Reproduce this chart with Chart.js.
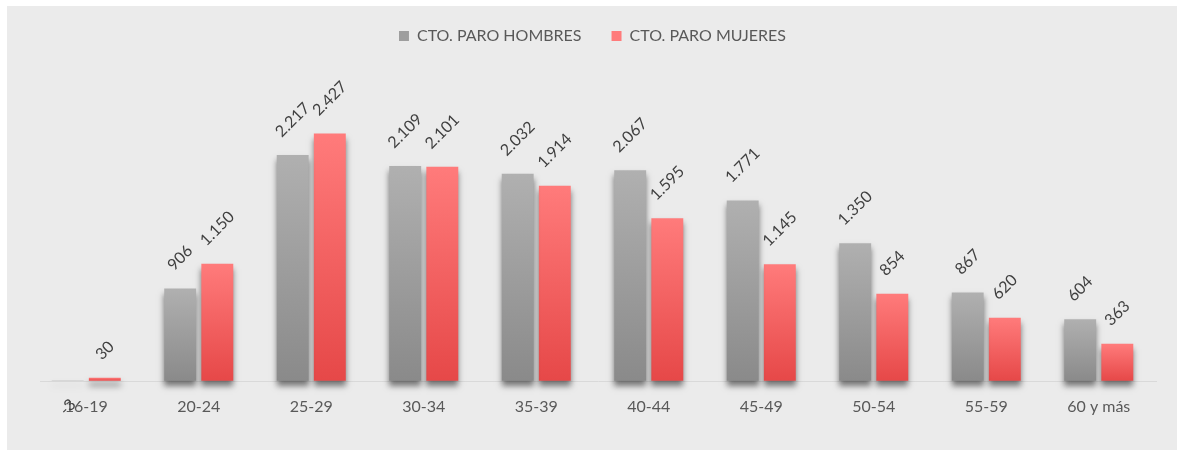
<!DOCTYPE html>
<html><head><meta charset="utf-8">
<script src="https://cdn.jsdelivr.net/npm/chart.js@4.4.1/dist/chart.umd.min.js"></script>
<style>
html,body{margin:0;padding:0;background:#fff;}
#wrap{position:absolute;left:7px;top:6px;width:1170px;height:444px;background:#ebebeb;}
canvas{display:block;}
</style></head><body>
<div id="wrap"><canvas id="c" width="1170" height="444"></canvas></div>
<script>
const categories = ['16-19','20-24','25-29','30-34','35-39','40-44','45-49','50-54','55-59','60 y más'];
const hombres = [-3, 906, 2217, 2109, 2032, 2067, 1771, 1350, 867, 604];
const mujeres = [30, 1150, 2427, 2101, 1914, 1595, 1145, 854, 620, 363];
const seriesNames = ['CTO. PARO HOMBRES', 'CTO. PARO MUJERES'];

function fmt(v){
  const s = String(Math.abs(v)).replace(/\B(?=(\d{3})+(?!\d))/g, '.');
  return (v < 0 ? '-' : '') + s;
}
function grad(top, bottom, solid){
  return (c) => {
    const ch = c.chart;
    if (c.type !== 'data' || !ch.chartArea || !ch.scales.y) return solid;
    const ys = ch.scales.y;
    const v = c.raw;
    const y0 = ys.getPixelForValue(Math.max(v, 0));
    const y1 = ys.getPixelForValue(Math.min(v, 0));
    if (!isFinite(y0) || !isFinite(y1) || y1 - y0 < 1) return solid;
    const g = ch.ctx.createLinearGradient(0, y0, 0, y1);
    g.addColorStop(0, top);
    g.addColorStop(1, bottom);
    return g;
  };
}

const legendSpacer = {
  id: 'legendSpacer',
  beforeInit(chart){
    const orig = chart.legend.fit;
    chart.legend.fit = function(){ orig.call(this); this.height = 62; };
  }
};
const zeroLine = {
  id: 'zeroLine',
  beforeDatasetsDraw(chart){
    const {ctx, chartArea, scales} = chart;
    const y = Math.round(scales.y.getPixelForValue(0)) + 0.5;
    ctx.save();
    ctx.strokeStyle = '#d9d9d9';
    ctx.lineWidth = 1;
    ctx.beginPath();
    ctx.moveTo(chartArea.left + 10, y);
    ctx.lineTo(chartArea.right + 2, y);
    ctx.stroke();
    ctx.restore();
  }
};
const barShadow = {
  id: 'barShadow',
  beforeDatasetDraw(chart){
    const ctx = chart.ctx;
    ctx.save();
    ctx.shadowColor = 'rgba(0,0,0,0.5)';
    ctx.shadowBlur = 6;
    ctx.shadowOffsetX = 0;
    ctx.shadowOffsetY = 5;
  },
  afterDatasetDraw(chart){ chart.ctx.restore(); }
};
const valueLabels = {
  id: 'valueLabels',
  afterDatasetsDraw(chart){
    const ctx = chart.ctx;
    ctx.save();
    ctx.font = '16px Lato';
    ctx.fillStyle = '#404040';
    ctx.textAlign = 'center';
    ctx.textBaseline = 'middle';
    chart.data.datasets.forEach((ds, di) => {
      const meta = chart.getDatasetMeta(di);
      meta.data.forEach((el, i) => {
        const v = ds.data[i];
        const t = fmt(v);
        const w = ctx.measureText(t).width;
        const d = (w + 16) / (2 * Math.SQRT2) + 15;
        const cx = el.x;
        const cy = v >= 0 ? el.y - d : el.y + d;
        ctx.save();
        ctx.translate(cx, cy);
        ctx.rotate(-Math.PI / 4);
        ctx.fillText(t, 0, 0);
        ctx.restore();
      });
    });
    ctx.restore();
  }
};

new Chart(document.getElementById('c'), {
  type: 'bar',
  data: {
    labels: categories,
    datasets: [
      { label: seriesNames[0], data: hombres,
        backgroundColor: grad('#b0b0b0', '#8a8a8a', '#9e9e9e'),
        categoryPercentage: 0.66, barPercentage: 0.86, clip: false },
      { label: seriesNames[1], data: mujeres,
        backgroundColor: grad('#ff7b7b', '#e64848', '#f55f5f'),
        categoryPercentage: 0.66, barPercentage: 0.86, clip: false }
    ]
  },
  options: {
    responsive: false,
    animation: false,
    devicePixelRatio: 1,
    layout: { padding: { left: 23, right: 22, top: -8, bottom: 20 } },
    plugins: {
      legend: {
        position: 'top',
        labels: { font: { family: 'Lato', size: 16 }, color: '#595959', boxWidth: 10, boxHeight: 10, padding: 30 }
      },
      tooltip: { enabled: false }
    },
    scales: {
      x: {
        grid: { display: false, drawTicks: false },
        border: { display: false },
        ticks: { font: { family: 'Lato', size: 16 }, color: '#595959', padding: 14, maxRotation: 0, autoSkip: false }
      },
      y: { display: false, min: -20, max: 3150 }
    }
  },
  plugins: [legendSpacer, zeroLine, barShadow, valueLabels]
});
</script>
</body></html>
